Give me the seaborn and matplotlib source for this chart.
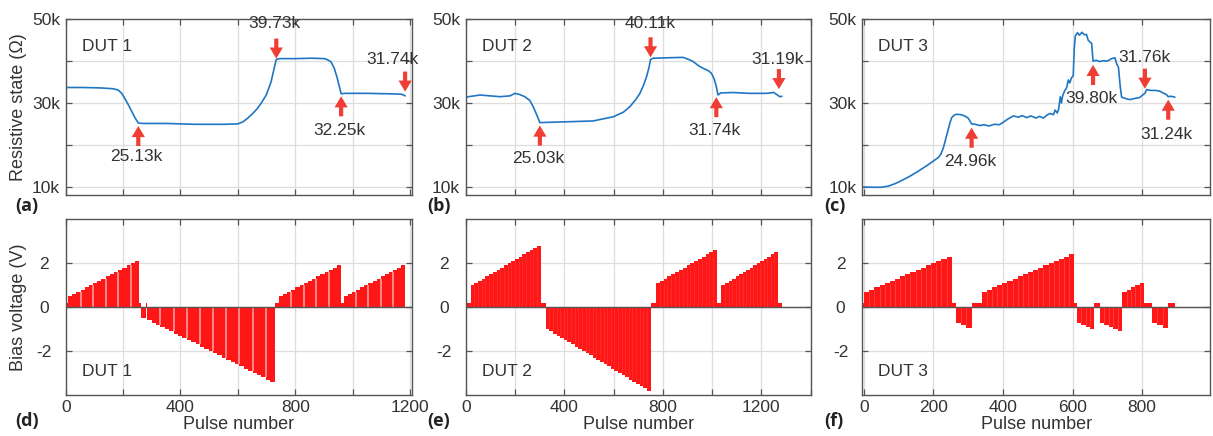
import numpy as np
import matplotlib
matplotlib.use("Agg")
import matplotlib.pyplot as plt
import seaborn as sns

# ------------------------------------------------------------------ data
# Resistive state traces (pulse number, resistance in kOhm)
dut1_pulse = [0, 60, 120, 165, 183, 195, 205, 218, 230, 242, 253, 270, 350, 450, 550, 600,
              618, 635, 652, 667, 681, 699, 716, 728, 734, 745, 800, 860, 900, 907, 916, 925,
              936, 945, 954, 960, 975, 1050, 1120, 1170, 1183]
dut1_res_k = [33.7, 33.7, 33.6, 33.4, 33.1, 32.3, 31.2, 29.6, 28.0, 26.4, 25.2, 25.1, 25.1, 24.9, 24.9, 25.0,
              25.5, 26.4, 27.5, 28.6, 29.9, 31.9, 35.1, 38.7, 40.4, 40.6, 40.6, 40.7, 40.6, 40.5, 40.2, 39.8,
              38.3, 36.3, 33.9, 32.2, 32.3, 32.3, 32.2, 32.1, 31.7]

dut2_pulse = [0, 58, 139, 180, 200, 220, 240, 260, 274, 288, 301, 350, 409, 517, 599, 640,
              666, 690, 707, 722, 734, 744, 750, 761, 820, 882, 905, 923, 945, 963, 985, 997,
              1008, 1017, 1024, 1035, 1085, 1150, 1220, 1250, 1265, 1274, 1283]
dut2_res_k = [31.4, 31.9, 31.5, 31.7, 32.3, 32.0, 31.5, 30.6, 29.1, 27.2, 25.3, 25.4, 25.5, 25.7, 26.7, 27.8,
              29.1, 30.8, 32.3, 34.3, 36.3, 38.5, 40.4, 40.7, 40.8, 40.9, 40.4, 39.9, 38.9, 38.3, 37.7, 37.1,
              35.8, 33.9, 31.9, 32.4, 32.5, 32.3, 32.3, 32.5, 31.9, 31.5, 31.6]

dut3_pulse = [0, 30, 50, 70, 90, 110, 133, 155, 181, 200, 215, 222, 229, 236, 243, 248, 253, 260,
              267, 280, 290, 300, 306, 310, 320, 335, 345, 360, 375, 390, 401, 415, 430, 445,
              455, 468, 480, 495, 505, 516, 525, 535, 545, 550, 556, 560, 565, 568, 572, 578,
              583, 588, 592, 597, 602, 605, 608, 614, 620, 627, 634, 640, 645, 650, 655, 659,
              668, 678, 688, 700, 712, 722, 727, 732, 737, 741, 755, 765, 780, 793, 800, 808,
              813, 825, 840, 851, 860, 870, 875, 883, 894]
dut3_res_k = [9.9, 9.85, 9.85, 10.1, 10.7, 11.5, 12.5, 13.6, 15.0, 16.1, 17.0, 17.8, 19.3, 21.5, 23.7, 25.3, 26.5, 27.1,
              27.3, 27.2, 26.9, 26.4, 25.6, 25.0, 24.9, 24.6, 24.8, 24.5, 24.9, 24.8, 25.4, 26.2, 26.9, 26.6,
              27.0, 26.5, 26.9, 26.4, 26.8, 26.4, 27.0, 27.5, 27.2, 28.3, 27.6, 28.5, 31.5, 30.0, 31.8, 33.0,
              33.6, 35.5, 34.8, 36.0, 36.5, 43.0, 46.0, 46.8, 46.2, 46.9, 46.3, 46.4, 45.0, 44.6, 44.2, 40.0,
              40.2, 39.9, 40.1, 40.0, 40.6, 40.8, 39.3, 38.5, 34.0, 31.4, 31.0, 30.8, 31.1, 31.3, 31.8, 32.3,
              33.2, 33.0, 33.0, 32.8, 32.4, 32.0, 31.5, 31.6, 31.4]

# Bias pulse staircases: segment boundaries (pulse number) and the voltage levels inside each segment
dut1_bounds = [0, 4, 8, 256, 263, 281, 284, 728, 743, 960, 969, 1184]
dut1_levels = [
    [-3.0],
    [0.2],
    [0.5, 0.6, 0.7, 0.8, 0.9, 1.0, 1.1, 1.2, 1.3, 1.4, 1.5, 1.6, 1.7, 1.8, 1.9, 2.0, 2.1],
    [0.2],
    [-0.5],
    [0.2],
    [-0.6, -0.7, -0.8, -0.9, -1.0, -1.1, -1.2, -1.3, -1.4, -1.5, -1.6, -1.7, -1.8, -1.9, -2.0,
     -2.1, -2.2, -2.3, -2.4, -2.5, -2.6, -2.7, -2.8, -2.9, -3.0, -3.1, -3.2, -3.3, -3.4],
    [0.2],
    [0.5, 0.6, 0.7, 0.8, 0.9, 1.0, 1.1, 1.2, 1.3, 1.4, 1.5, 1.6, 1.7, 1.8, 1.9],
    [0.2],
    [0.5, 0.6, 0.7, 0.8, 0.9, 1.0, 1.1, 1.2, 1.3, 1.4, 1.5, 1.6, 1.7, 1.8, 1.9],
]

dut2_bounds = [0, 4, 20, 305, 325, 750, 772, 1020, 1038, 1267, 1285]
dut2_levels = [
    [2.2],
    [0.2],
    [1.0, 1.1, 1.2, 1.3, 1.4, 1.5, 1.6, 1.7, 1.8, 1.9, 2.0, 2.1, 2.2, 2.3, 2.4, 2.5, 2.6, 2.7, 2.8],
    [0.2],
    [-1.0, -1.1, -1.2, -1.3, -1.4, -1.5, -1.6, -1.7, -1.8, -1.9, -2.0, -2.1, -2.2, -2.3, -2.4,
     -2.5, -2.6, -2.7, -2.8, -2.9, -3.0, -3.1, -3.2, -3.3, -3.4, -3.5, -3.6, -3.7, -3.8],
    [0.2],
    [1.1, 1.2, 1.3, 1.4, 1.5, 1.6, 1.7, 1.8, 1.9, 2.0, 2.1, 2.2, 2.3, 2.4, 2.5, 2.6],
    [0.2],
    [1.0, 1.1, 1.2, 1.3, 1.4, 1.5, 1.6, 1.7, 1.8, 1.9, 2.0, 2.1, 2.2, 2.3, 2.4, 2.5],
    [0.2],
]

dut3_bounds = [-4, 1, 253, 264, 310, 339, 605, 613, 662, 679, 743, 806, 827, 875, 894]
dut3_levels = [
    [0.2],
    [0.7, 0.8, 0.9, 1.0, 1.1, 1.2, 1.3, 1.4, 1.5, 1.6, 1.7, 1.8, 1.9, 2.0, 2.1, 2.2, 2.3],
    [0.2],
    [-0.7, -0.8, -0.95],
    [0.2],
    [0.7, 0.8, 0.9, 1.0, 1.1, 1.2, 1.3, 1.4, 1.5, 1.6, 1.7, 1.8, 1.9, 2.0, 2.1, 2.2, 2.3, 2.4],
    [0.2],
    [-0.7, -0.8, -0.9, -1.0],
    [0.2],
    [-0.7, -0.8, -0.9, -1.0, -1.1],
    [0.7, 0.8, 0.9, 1.0, 1.1],
    [0.2],
    [-0.7, -0.8, -0.95],
    [0.2],
]

# Marked states: pulse number, arrow tip (kOhm), arrow direction, label and label position (kOhm)
dut1_mark_x = [253, 734, 960, 1183]
dut1_mark_tip_k = [24.5, 40.6, 31.6, 32.7]
dut1_mark_dir = ["up", "down", "up", "down"]
dut1_mark_text = ["25.13k", "39.73k", "32.25k", "31.74k"]
dut1_mark_tx = [247, 728, 954, 1139]
dut1_mark_ty_k = [17.2, 48.9, 23.4, 40.5]

dut2_mark_x = [301, 750, 1017, 1271]
dut2_mark_tip_k = [24.6, 40.9, 31.4, 33.3]
dut2_mark_dir = ["up", "down", "up", "down"]
dut2_mark_text = ["25.03k", "40.11k", "31.74k", "31.19k"]
dut2_mark_tx = [295, 747, 1011, 1267]
dut2_mark_ty_k = [16.7, 48.9, 23.4, 40.5]

dut3_mark_x = [310, 659, 808, 875]
dut3_mark_tip_k = [24.1, 39.1, 33.4, 30.8]
dut3_mark_dir = ["up", "up", "down", "up"]
dut3_mark_text = ["24.96k", "39.80k", "31.76k", "31.24k"]
dut3_mark_tx = [305, 655, 808, 870]
dut3_mark_ty_k = [16.1, 31.1, 40.9, 22.4]

dut_names = ["DUT 1", "DUT 2", "DUT 3"]
top_panel_labels = ["(a)", "(b)", "(c)"]
bottom_panel_labels = ["(d)", "(e)", "(f)"]

# ------------------------------------------------------------------ style
sns.set_theme(style="whitegrid")
plt.rcParams["font.family"] = ["Liberation Sans", "DejaVu Sans"]
plt.rcParams["axes.unicode_minus"] = False

TXT = "#333333"
BLUE = "#1f77c4"
RED = "#ff1616"
ARROW = "#ef3e33"
GRID = "#dedede"
SPINE = "#555555"
FS = 12.5

W, H = 1213, 436
fig = plt.figure(figsize=(W / 100, H / 100), dpi=100)
fig.patch.set_facecolor("white")


def add_ax(l, r, t, b):
    return fig.add_axes([l / W, 1 - b / H, (r - l) / W, (b - t) / H])


cols = [(65.7, 412.0), (465.7, 810.7), (862.3, 1210.0)]
xlims = [(0, 1207), (0, 1400), (-4, 995)]
label_every = [400, 400, 200]
TOP = (19.3, 195.0)
BOT = (219.3, 395.0)


def style(ax, xl, every, show_labels):
    ax.set_xlim(*xl)
    ticks = np.arange(0, xl[1] + 1, 200)
    ax.set_xticks(ticks)
    if show_labels:
        ax.set_xticklabels([str(int(t)) if t % every == 0 else "" for t in ticks])
    else:
        ax.set_xticklabels([])
    ax.grid(True, color=GRID, lw=0.9)
    ax.set_axisbelow(True)
    ax.set_facecolor("white")
    for s in ax.spines.values():
        s.set_visible(True)
        s.set_color(SPINE)
        s.set_linewidth(1.0)
    ax.tick_params(direction="in", length=4, width=0.9, color=SPINE, top=True, right=True,
                   bottom=True, left=True, labelsize=FS, labelcolor=TXT, pad=4)


traces = [(dut1_pulse, dut1_res_k), (dut2_pulse, dut2_res_k), (dut3_pulse, dut3_res_k)]
marks = [
    (dut1_mark_x, dut1_mark_tip_k, dut1_mark_dir, dut1_mark_text, dut1_mark_tx, dut1_mark_ty_k),
    (dut2_mark_x, dut2_mark_tip_k, dut2_mark_dir, dut2_mark_text, dut2_mark_tx, dut2_mark_ty_k),
    (dut3_mark_x, dut3_mark_tip_k, dut3_mark_dir, dut3_mark_text, dut3_mark_tx, dut3_mark_ty_k),
]
bias = [(dut1_bounds, dut1_levels), (dut2_bounds, dut2_levels), (dut3_bounds, dut3_levels)]
sep_style = [(3, "#ff9c9c", 1.2), (1, "#ff3a3a", 0.4), (1, "#ff4e4e", 0.5)]

ARROW_LEN_K = 4.8

for i in range(3):
    l, r = cols[i]
    # ---------------- top: resistive state
    ax = add_ax(l, r, *TOP)
    px, rk = traces[i]
    sns.lineplot(x=px, y=np.array(rk) * 1000, ax=ax, color=BLUE, lw=1.2, estimator=None)
    style(ax, xlims[i], label_every[i], False)
    ax.set_ylim(8000, 50000)
    ax.set_yticks([10000, 20000, 30000, 40000, 50000])
    ax.set_yticklabels(["10k", "", "30k", "", "50k"])
    ax.set_xlabel("")
    ax.set_ylabel("")
    ax.text(0.046, 0.844, dut_names[i], transform=ax.transAxes, ha="left", va="center",
            fontsize=FS, color=TXT)
    mx, tip, dirs, txt, tx, ty = marks[i]
    for k in range(len(mx)):
        tail = tip[k] - ARROW_LEN_K if dirs[k] == "up" else tip[k] + ARROW_LEN_K
        ax.annotate("", xy=(mx[k], tip[k] * 1000), xytext=(mx[k], tail * 1000),
                    arrowprops=dict(arrowstyle="simple,head_length=0.8,head_width=0.95,tail_width=0.3",
                                    fc=ARROW, ec="none", mutation_scale=10, shrinkA=0, shrinkB=0),
                    annotation_clip=False, zorder=5)
        ax.text(tx[k], ty[k] * 1000, txt[k], ha="center", va="center", fontsize=FS, color=TXT,
                zorder=6)

    # ---------------- bottom: bias voltage
    ax2 = add_ax(l, r, *BOT)
    bounds, levels = bias[i]
    every, scol, slw = sep_style[i]
    for k, lv in enumerate(levels):
        x0, x1 = bounds[k], bounds[k + 1]
        w = (x1 - x0) / len(lv)
        lefts = x0 + w * np.arange(len(lv))
        ax2.bar(lefts, lv, width=w, align="edge", color=RED, linewidth=0, antialiased=False,
                zorder=2)
        for j in range(1, len(lv)):
            if j % every == 0:
                h = lv[j - 1] if abs(lv[j - 1]) < abs(lv[j]) else lv[j]
                ax2.vlines(lefts[j], 0, h, color=scol, lw=slw, zorder=3)
    ax2.axhline(0, color="#555555", lw=1.0, zorder=4)
    style(ax2, xlims[i], label_every[i], True)
    ax2.set_ylim(-4, 4)
    ax2.set_yticks([-2, 0, 2])
    ax2.set_yticklabels(["-2", "0", "2"])
    for lab in ax2.get_yticklabels():
        lab.set_horizontalalignment("center")
    ax2.tick_params(axis="y", pad=15.6)
    ax2.tick_params(axis="x", pad=3.5)
    ax2.set_xlabel("Pulse number", fontsize=FS + 0.5, color=TXT)
    ax2.xaxis.set_label_coords(0.5, -0.118)
    ax2.text(0.046, 0.133, dut_names[i], transform=ax2.transAxes, ha="left", va="center",
             fontsize=FS, color=TXT)

    # panel letters
    lx = [15, 427, 824][i]
    fig.text(lx / W, 1 - 206 / H, top_panel_labels[i], ha="left", va="center", fontsize=13,
             fontweight="bold", color="#222222", family=["Open Sans", "DejaVu Sans"])
    fig.text(lx / W, 1 - 421 / H, bottom_panel_labels[i], ha="left", va="center", fontsize=13,
             fontweight="bold", color="#222222", family=["Open Sans", "DejaVu Sans"])

fig.text(19 / W, 1 - (TOP[0] + TOP[1]) / 2 / H, "Resistive state (\u03a9)", rotation=90,
         ha="center", va="center", fontsize=FS + 0.5, color=TXT)
fig.text(19 / W, 1 - (BOT[0] + BOT[1]) / 2 / H, "Bias voltage (V)", rotation=90,
         ha="center", va="center", fontsize=FS + 0.5, color=TXT)

fig.savefig("out.png", dpi=100, facecolor="white")
